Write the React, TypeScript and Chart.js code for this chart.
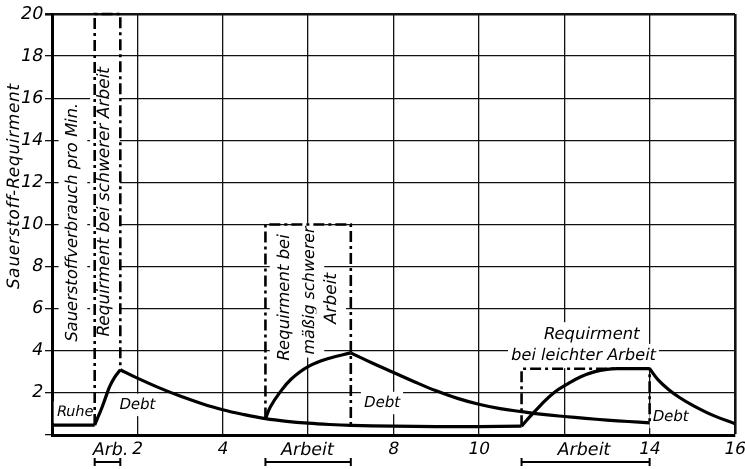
import React, { useEffect, useRef } from 'react';
import { Chart, registerables } from 'chart.js';

Chart.register(...registerables);

const FONT = '"DejaVu Sans", "Liberation Sans", sans-serif';

// axis ranges / ticks
const xTickValues = [0, 2, 4, 6, 8, 10, 12, 14, 16];
const xHiddenTicks = [0, 6, 12];
const yTickValues = [0, 2, 4, 6, 8, 10, 12, 14, 16, 18, 20];

// main curve: rest, heavy work, its debt
const restX = [0, 1.0];
const restY = [0.47, 0.47];
const heavyRiseX = [1.0, 1.05, 1.15, 1.25, 1.35, 1.47, 1.6];
const heavyRiseY = [0.47, 0.72, 1.2, 1.75, 2.3, 2.75, 3.1];
const heavyDebtX = [1.6, 2, 2.5, 3, 3.5, 4, 4.5, 5, 5.5, 6, 6.5, 7, 8, 9, 10, 11];
const heavyDebtY = [3.1, 2.7, 2.25, 1.85, 1.5, 1.2, 0.97, 0.78, 0.65, 0.56, 0.5, 0.46, 0.42, 0.4, 0.4, 0.42];

// moderate work
const moderateRiseX = [5, 5.12, 5.33, 5.6, 6, 6.5, 7];
const moderateRiseY = [0.78, 1.35, 2.0, 2.65, 3.25, 3.65, 3.9];
const moderateDebtX = [7, 7.5, 8, 8.5, 9, 9.5, 10, 10.5, 11, 11.5, 12, 12.5, 13, 13.5, 14];
const moderateDebtY = [3.9, 3.42, 2.97, 2.52, 2.1, 1.74, 1.46, 1.25, 1.11, 0.98, 0.88, 0.79, 0.71, 0.64, 0.58];

// light work
const lightRiseX = [11, 11.12, 11.45, 11.75, 12.1, 12.4, 12.7, 13.0, 13.3, 14];
const lightRiseY = [0.42, 0.7, 1.42, 2.0, 2.45, 2.78, 3.0, 3.12, 3.15, 3.15];
const lightDebtX = [14, 14.2, 14.45, 14.7, 15, 15.5, 16];
const lightDebtY = [3.15, 2.62, 2.15, 1.78, 1.42, 0.92, 0.54];

// requirement outlines (dash-dot)
const heavyReqX = [1.0, 1.0, 1.6, 1.6];
const heavyReqY = [0.47, 20, 20, 3.1];
const moderateReqX = [5, 5, 7, 7];
const moderateReqY = [0.78, 10, 10, 0.46];
const lightReqX = [11, 11, 14, 14];
const lightReqY = [0.42, 3.15, 3.15, 0.58];

// work periods (brackets under axis)
const workStart = [1.0, 5, 11];
const workEnd = [1.6, 7, 14];
const workLabels = ['Arb.', 'Arbeit', 'Arbeit'];
const workLabelX = [1.37, 5.98, 12.46];

const yTitle = 'Sauerstoff-Requirment';

type Lbl = { text: string; x: number; y: number; rot: boolean; size: number };
const innerLabels: Lbl[] = [
  { text: 'Sauerstoffverbrauch pro Min.', x: 0.49, y: 10.1, rot: true, size: 16.4 },
  { text: 'Requirment bei schwerer Arbeit', x: 1.24, y: 11.07, rot: true, size: 17 },
  { text: 'Requirment bei', x: 5.44, y: 6.53, rot: true, size: 16.5 },
  { text: 'mäßig schwerer', x: 6.05, y: 6.86, rot: true, size: 16 },
  { text: 'Arbeit', x: 6.54, y: 6.48, rot: true, size: 17 },
  { text: 'Requirment', x: 12.64, y: 4.77, rot: false, size: 16.5 },
  { text: 'bei leichter Arbeit', x: 12.45, y: 3.75, rot: false, size: 16.2 },
  { text: 'Ruhe', x: 0.54, y: 1.09, rot: false, size: 14.5 },
  { text: 'Debt', x: 2.0, y: 1.43, rot: false, size: 15 },
  { text: 'Debt', x: 7.73, y: 1.52, rot: false, size: 15 },
  { text: 'Debt', x: 14.49, y: 0.86, rot: false, size: 15 },
];

const pts = (xs: number[], ys: number[]) => xs.map((x, i) => ({ x, y: ys[i] }));
const xLabel = (v: number) => (xHiddenTicks.includes(v) ? '' : String(v));
const yLabel = (v: number) => (v === 0 ? '' : String(v));

function drawText(
  ctx: CanvasRenderingContext2D,
  text: string,
  x: number,
  y: number,
  size: number,
  rot: boolean,
  bg: boolean,
  align: 'center' | 'right' = 'center',
  spacing = 0,
) {
  ctx.save();
  ctx.translate(x, y);
  if (rot) ctx.rotate(-Math.PI / 2);
  ctx.font = `${size}px ${FONT}`;
  (ctx as any).letterSpacing = spacing + 'px';
  const w = ctx.measureText(text).width - spacing;
  const x0 = align === 'center' ? -w / 2 : -w;
  if (bg) {
    const h = size * (rot ? 1.75 : 1.5);
    ctx.fillStyle = '#fff';
    ctx.fillRect(x0 - 3, -h / 2, w + 6, h);
  }
  // italic slant
  ctx.transform(1, 0, -0.2, 1, 0, 0);
  ctx.fillStyle = '#000';
  ctx.textAlign = 'left';
  ctx.textBaseline = 'middle';
  ctx.fillText(text, x0, 0);
  ctx.restore();
}

const labelPlugin = {
  id: 'labelPlugin',
  beforeDatasetsDraw(chart: any) {
    const { ctx, scales } = chart;
    innerLabels.forEach((l) => {
      drawText(ctx, l.text, scales.x.getPixelForValue(l.x), scales.y.getPixelForValue(l.y), l.size, l.rot, true);
    });
  },
  afterDraw(chart: any) {
    const { ctx, scales, chartArea } = chart;
    // tick labels
    scales.y.ticks.forEach((t: any) => {
      const s = yLabel(t.value);
      if (s) drawText(ctx, s, chartArea.left - 9, scales.y.getPixelForValue(t.value), 17.5, false, false, 'right');
    });
    scales.x.ticks.forEach((t: any) => {
      const s = xLabel(t.value);
      if (s) drawText(ctx, s, scales.x.getPixelForValue(t.value), chartArea.bottom + 15, 17, false, false);
    });
    // y title
    drawText(ctx, yTitle, chartArea.left - 37, scales.y.getPixelForValue(11.8), 17, true, false, 'center', 0.7);
    // work labels and brackets
    workLabels.forEach((t, i) => {
      drawText(ctx, t, scales.x.getPixelForValue(workLabelX[i]), chartArea.bottom + 15, 17.5, false, false);
      const x0 = scales.x.getPixelForValue(workStart[i]);
      const x1 = scales.x.getPixelForValue(workEnd[i]);
      const yb = chartArea.bottom + 27;
      ctx.save();
      ctx.strokeStyle = '#000';
      ctx.lineWidth = 2;
      ctx.beginPath();
      ctx.moveTo(x0, yb);
      ctx.lineTo(x1, yb);
      ctx.moveTo(x0, yb - 4);
      ctx.lineTo(x0, yb + 4);
      ctx.moveTo(x1, yb - 4);
      ctx.lineTo(x1, yb + 4);
      ctx.stroke();
      ctx.restore();
    });
  },
};

export default function App() {
  const ref = useRef<HTMLCanvasElement | null>(null);
  useEffect(() => {
    document.body.style.margin = '0';
    if (!ref.current) return;
    const curve = (xs: number[], ys: number[]) => ({
      data: pts(xs, ys),
      borderColor: '#000',
      borderWidth: 3.2,
      pointRadius: 0,
      tension: 0.4,
      fill: false,
    });
    const req = (xs: number[], ys: number[]) => ({
      data: pts(xs, ys),
      borderColor: '#000',
      borderWidth: 2.6,
      borderDash: [11, 4, 3, 4],
      pointRadius: 0,
      tension: 0,
      fill: false,
      clip: 6,
    });
    const chart = new Chart(ref.current, {
      type: 'line',
      data: {
        datasets: [
          curve(restX, restY),
          curve(heavyRiseX, heavyRiseY),
          curve(heavyDebtX, heavyDebtY),
          curve(moderateRiseX, moderateRiseY),
          curve(moderateDebtX, moderateDebtY),
          curve(lightRiseX, lightRiseY),
          curve(lightDebtX, lightDebtY),
          req(heavyReqX, heavyReqY),
          req(moderateReqX, moderateReqY),
          req(lightReqX, lightReqY),
        ] as any,
      },
      options: {
        responsive: false,
        animation: false,
        layout: { padding: { top: 14, right: 10, left: 0, bottom: 0 } },
        plugins: { legend: { display: false }, tooltip: { enabled: false } },
        scales: {
          x: {
            type: 'linear',
            min: 0,
            max: 16,
            afterFit: (s: any) => { s.height = 34; },
            afterBuildTicks: (s: any) => { s.ticks = xTickValues.map((v) => ({ value: v })); },
            ticks: { display: false },
            grid: {
              color: '#111',
              lineWidth: (c: any) => (c.tick && c.tick.value === 16 ? 2.6 : 1.3),
              drawTicks: false,
              tickLength: 0,
            },
            border: { color: '#000', width: 3 },
          },
          y: {
            min: 0,
            max: 20,
            afterFit: (s: any) => { s.width = 52; },
            afterBuildTicks: (s: any) => { s.ticks = yTickValues.map((v) => ({ value: v })); },
            ticks: { display: false },
            grid: {
              color: '#111',
              lineWidth: (c: any) => (c.tick && c.tick.value === 20 ? 2.6 : 1.3),
              tickLength: 7,
            },
            border: { color: '#000', width: 3 },
          },
        },
      } as any,
      plugins: [labelPlugin],
    });
    return () => chart.destroy();
  }, []);
  return (
    <div style={{ width: 745, height: 469 }}>
      <canvas ref={ref} width={745} height={469} style={{ display: 'block' }} />
    </div>
  );
}
